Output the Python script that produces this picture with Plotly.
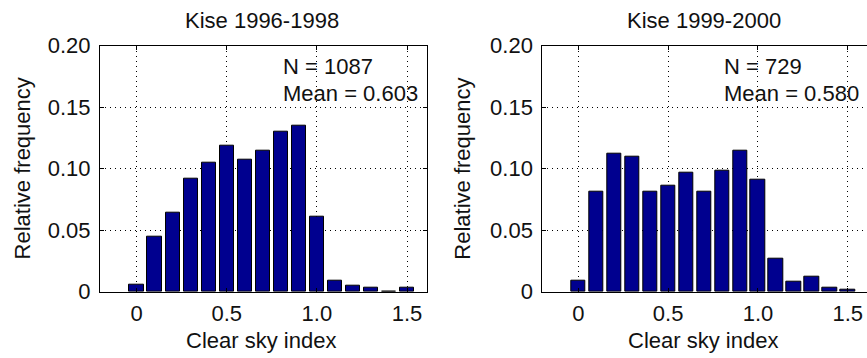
import plotly.graph_objects as go

# Histogram bin centres (clear sky index) and relative frequencies
bin_centers = [0.0, 0.1, 0.2, 0.3, 0.4, 0.5, 0.6, 0.7, 0.8, 0.9, 1.0, 1.1, 1.2, 1.3, 1.4, 1.5]
freq_1996_1998 = [0.006, 0.045, 0.064, 0.092, 0.105, 0.119, 0.107, 0.115,
                  0.130, 0.135, 0.061, 0.009, 0.005, 0.003, 0.0, 0.003]
freq_1999_2000 = [0.009, 0.081, 0.112, 0.110, 0.081, 0.086, 0.097, 0.081,
                  0.098, 0.115, 0.091, 0.027, 0.008, 0.012, 0.003, 0.002]

titles = ["Kise 1996-1998", "Kise 1999-2000"]
n_labels = ["N = 1087", "N = 729"]
mean_labels = ["Mean = 0.603", "Mean = 0.580"]

x_tickvals = [0, 0.5, 1.0, 1.5]
x_ticktext = ["0", "0.5", "1.0", "1.5"]
y_tickvals = [0, 0.05, 0.10, 0.15, 0.20]
y_ticktext = ["0", "0.05", "0.10", "0.15", "0.20"]

W, H = 867, 358
FONT = "Liberation Sans, Arial, Helvetica, sans-serif"
FS = 22
BAR_COLOR = "#00008F"
TEXT_COLOR = "#111111"


def px(xp):
    return xp / W


def py(yp):
    return 1 - yp / H


fig = go.Figure()

fig.add_trace(go.Bar(x=bin_centers, y=freq_1996_1998, width=0.08,
                     marker=dict(color=BAR_COLOR, line=dict(color="black", width=1)),
                     xaxis="x", yaxis="y", showlegend=False))
fig.add_trace(go.Bar(x=bin_centers, y=freq_1999_2000, width=0.08,
                     marker=dict(color=BAR_COLOR, line=dict(color="black", width=1)),
                     xaxis="x2", yaxis="y2", showlegend=False))

y_dom = [py(291.7), py(45.7)]
axis_common = dict(
    showline=True, linecolor="black", linewidth=1,
    ticks="inside", ticklen=4, tickcolor="black", tickwidth=1,
    showgrid=True, gridcolor="black", gridwidth=1, griddash="1px,4px",
    zeroline=False, automargin=False,
    tickfont=dict(family=FONT, size=FS, color=TEXT_COLOR),
)

fig.update_layout(
    template="none",
    width=W, height=H,
    margin=dict(l=0, r=0, t=0, b=0, pad=0),
    paper_bgcolor="white", plot_bgcolor="white",
    font=dict(family=FONT, size=FS, color=TEXT_COLOR),
    bargap=0,
    xaxis=dict(domain=[px(100), px(426.7)], range=[-0.2035, 1.6093],
               tickvals=x_tickvals, ticktext=x_ticktext, mirror="ticks",
               anchor="y", ticklabelstandoff=2, **axis_common),
    yaxis=dict(domain=y_dom, range=[0, 0.2], tickvals=y_tickvals,
               ticktext=y_ticktext, mirror="ticks", anchor="x",
               ticklabelstandoff=4, **axis_common),
    xaxis2=dict(domain=[px(542.3), 1.0], range=[-0.2004, 1.607],
                tickvals=x_tickvals, ticktext=x_ticktext, mirror="ticks",
                anchor="y2", ticklabelstandoff=2, **axis_common),
    yaxis2=dict(domain=y_dom, range=[0, 0.2], tickvals=y_tickvals,
                ticktext=y_ticktext, mirror=False, anchor="x2",
                ticklabelstandoff=4, **axis_common),
)

annotations = []
panel_centers = [263.3, 704.5]
ytitle_x = [22.7, 463.0]
for i in range(2):
    xr = "x" if i == 0 else "x2"
    yr = "y" if i == 0 else "y2"
    annotations.append(dict(text=titles[i], x=px(panel_centers[i] - 1), y=py(20.5),
                            xref="paper", yref="paper", showarrow=False,
                            xanchor="center", yanchor="middle"))
    annotations.append(dict(text="Clear sky index", x=px(panel_centers[i] - 2), y=py(340),
                            xref="paper", yref="paper", showarrow=False,
                            xanchor="center", yanchor="middle"))
    annotations.append(dict(text="Relative frequency", x=px(ytitle_x[i]), y=py(168.7),
                            xref="paper", yref="paper", showarrow=False, textangle=-90,
                            xanchor="center", yanchor="middle"))
    annotations.append(dict(text=n_labels[i], x=0.8, y=0.1835, xref=xr, yref=yr,
                            showarrow=False, xanchor="left", yanchor="middle"))
    annotations.append(dict(text=mean_labels[i], x=0.8, y=0.1615, xref=xr, yref=yr,
                            showarrow=False, xanchor="left", yanchor="middle"))

fig.update_layout(annotations=annotations)

fig.write_html("out.html")
